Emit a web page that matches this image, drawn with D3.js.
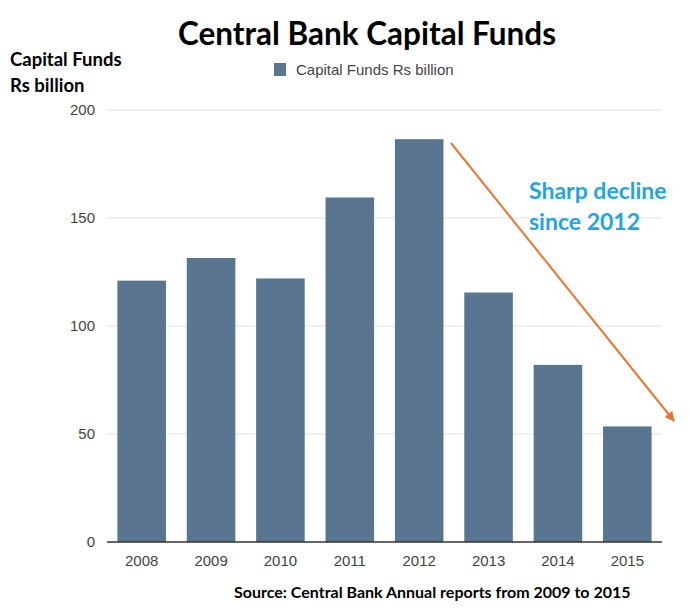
<!DOCTYPE html>
<html>
<head>
<meta charset="utf-8">
<script src="https://cdn.jsdelivr.net/npm/d3@7"></script>
<style>
  body { margin: 0; background: #fff; }
  svg { display: block; }
</style>
</head>
<body>
<svg id="chart"></svg>
<script>
// Chart data.
const years = ["2008", "2009", "2010", "2011", "2012", "2013", "2014", "2015"];
const capitalFunds = [121, 131.5, 122, 159.5, 186.5, 115.5, 82, 53.5];
const yTicks = [0, 50, 100, 150, 200];
const seriesName = "Capital Funds Rs billion";

const width = 690, height = 616;
const margin = { top: 110, right: 28, bottom: 74, left: 107 };

const svg = d3.select("#chart")
  .attr("width", width)
  .attr("height", height);

// Scales.
const x = d3.scaleBand()
  .domain(years)
  .range([margin.left, width - margin.right])
  .paddingInner(0.3)
  .paddingOuter(0.15);
const y = d3.scaleLinear()
  .domain([0, 200])
  .range([height - margin.bottom, margin.top]);

// Gridlines.
svg.append("g")
  .selectAll("line")
  .data(yTicks.filter(d => d > 0))
  .join("line")
  .attr("x1", margin.left)
  .attr("x2", width - margin.right)
  .attr("y1", d => y(d))
  .attr("y2", d => y(d))
  .attr("stroke", "#ebebeb")
  .attr("stroke-width", 1.5);

// Y tick labels.
svg.append("g")
  .selectAll("text")
  .data(yTicks)
  .join("text")
  .attr("x", margin.left - 12)
  .attr("y", d => y(d))
  .attr("dy", "0.35em")
  .attr("text-anchor", "end")
  .attr("font-family", "Liberation Sans, Arial, sans-serif")
  .attr("font-size", "15px")
  .attr("fill", "#444")
  .text(d => d);

// Bars.
svg.append("g")
  .selectAll("rect")
  .data(years)
  .join("rect")
  .attr("x", d => x(d))
  .attr("y", (d, i) => y(capitalFunds[i]))
  .attr("width", x.bandwidth())
  .attr("height", (d, i) => y(0) - y(capitalFunds[i]))
  .attr("fill", "#59758f");

// Baseline axis.
svg.append("line")
  .attr("x1", margin.left)
  .attr("x2", width - margin.right)
  .attr("y1", y(0))
  .attr("y2", y(0))
  .attr("stroke", "#333")
  .attr("stroke-width", 1.5);

// X labels.
svg.append("g")
  .selectAll("text")
  .data(years)
  .join("text")
  .attr("x", d => x(d) + x.bandwidth() / 2)
  .attr("y", y(0) + 24)
  .attr("text-anchor", "middle")
  .attr("font-family", "Liberation Sans, Arial, sans-serif")
  .attr("font-size", "15px")
  .attr("fill", "#444")
  .text(d => d);

// Title.
svg.append("text")
  .attr("x", 367)
  .attr("y", 45)
  .attr("text-anchor", "middle")
  .attr("font-family", "Lato, sans-serif")
  .attr("font-weight", "bold")
  .attr("font-size", "31.5px")
  .attr("fill", "#000")
  .text("Central Bank Capital Funds");

// Y axis title.
const yTitle = svg.append("text")
  .attr("font-family", "Lato, sans-serif")
  .attr("font-weight", "bold")
  .attr("font-size", "18.5px")
  .attr("fill", "#000");
yTitle.append("tspan").attr("x", 10).attr("y", 66).text("Capital Funds");
yTitle.append("tspan").attr("x", 10).attr("y", 92).text("Rs billion");

// Legend.
svg.append("rect")
  .attr("x", 274)
  .attr("y", 63)
  .attr("width", 12)
  .attr("height", 13)
  .attr("fill", "#59758f");
svg.append("text")
  .attr("x", 296)
  .attr("y", 75)
  .attr("font-family", "Liberation Sans, Arial, sans-serif")
  .attr("font-size", "15px")
  .attr("fill", "#444")
  .text(seriesName);

// Arrow annotation.
svg.append("defs").append("marker")
  .attr("id", "arrowhead")
  .attr("viewBox", "0 0 10 10")
  .attr("refX", 9)
  .attr("refY", 5)
  .attr("markerWidth", 5)
  .attr("markerHeight", 5)
  .attr("orient", "auto")
  .append("path")
  .attr("d", "M0,0 L10,5 L0,10 z")
  .attr("fill", "#e8772e");
svg.append("line")
  .attr("x1", 451)
  .attr("y1", 143)
  .attr("x2", 674)
  .attr("y2", 421)
  .attr("stroke", "#e8772e")
  .attr("stroke-width", 2)
  .attr("marker-end", "url(#arrowhead)");

const note = svg.append("text")
  .attr("font-family", "Lato, sans-serif")
  .attr("font-weight", "bold")
  .attr("font-size", "23px")
  .attr("fill", "#22a6e0");
note.append("tspan").attr("x", 529).attr("y", 199).text("Sharp decline");
note.append("tspan").attr("x", 529).attr("y", 230).text("since 2012");

// Source.
svg.append("text")
  .attr("x", 234)
  .attr("y", 598)
  .attr("font-family", "Lato, sans-serif")
  .attr("font-weight", "bold")
  .attr("font-size", "16px")
  .attr("fill", "#000")
  .text("Source: Central Bank Annual reports from 2009 to 2015");
</script>
</body>
</html>
